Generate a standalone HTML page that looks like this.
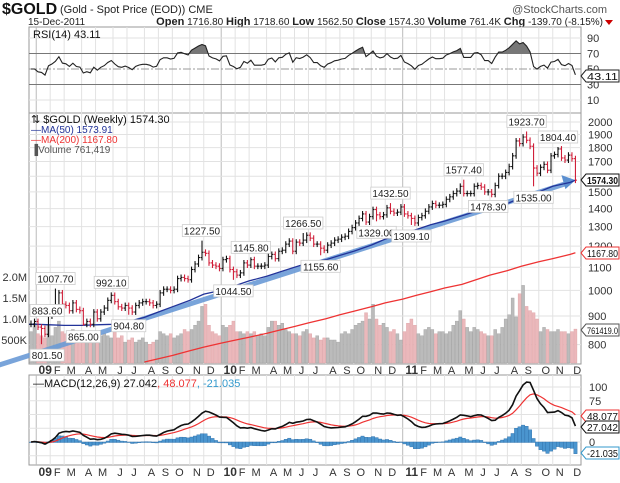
<!DOCTYPE html>
<html><head><meta charset="utf-8"><style>
body{margin:0;background:#fff;}
svg text{font-family:"Liberation Sans",sans-serif;}
</style></head><body>
<svg id="c" width="620" height="478" viewBox="0 0 620 478" xmlns="http://www.w3.org/2000/svg">
<rect width="620" height="478" fill="#fff"/>
<text x="2" y="14" font-size="16" font-weight="bold" fill="#111">$GOLD</text>
<text x="60" y="13" font-size="11" fill="#222">(Gold - Spot Price (EOD)) CME</text>
<text x="607" y="13" font-size="11" fill="#555" text-anchor="end">@StockCharts.com</text>
<text x="28" y="25" font-size="10" fill="#222">15-Dec-2011</text>
<text x="603" y="25" font-size="10" fill="#222" text-anchor="end"><tspan font-weight="bold" font-size="11">Open</tspan> 1716.80 <tspan font-weight="bold" font-size="11">High</tspan> 1718.60 <tspan font-weight="bold" font-size="11">Low</tspan> 1562.50 <tspan font-weight="bold" font-size="11">Close</tspan> 1574.30 <tspan font-weight="bold" font-size="11">Volume</tspan> 761.4K <tspan font-weight="bold" font-size="11">Chg</tspan> -139.70 (-8.15%)</text>
<path d="M605 20 L613 20 L609 25 Z" fill="#c00"/>
<g id="g"></g>
</svg>
<script>
const closes=[870,880,
860,855,835,900, 915,940,990,945, 940,920,950,925,920, 870,880,870,915, 890,915,930,960,980, 955,935,930,940, 930,915,940,950,955, 955,950,940,945, 990,1005,1005,1000, 1005,1050,1055,1050,1045, 1090,1115,1145,1170, 1165,1120,1110,1105,1095,
1135,1140,1090,1080, 1065,1075,1120,1110, 1135,1105,1105,1105,1110, 1150,1160,1140,1175, 1180,1210,1225,1175, 1220,1215,1230,1255, 1240,1210,1210,1190,1180, 1205,1215,1230,1235, 1245,1250,1275,1295, 1320,1345,1370,1325,1355, 1395,1365,1355,1365, 1405,1385,1375,1380,1410,
1370,1360,1345,1320, 1350,1360,1385,1410, 1430,1420,1420,1425, 1455,1470,1490,1505,1535, 1490,1490,1490,1535, 1540,1530,1500,1500, 1485,1540,1600,1600,1625, 1665,1740,1850,1830, 1880,1855,1810,1655,1620, 1660,1680,1640,1740, 1750,1790,1725,1710,1745, 1720,1574.3];
const volumes=[700,900,
650,600,550,850, 600,800,950,700, 650,600,750,550,700, 500,450,450,500, 500,600,650,600,550, 700,550,600,450, 500,550,450,500,550, 450,400,450,500, 700,650,600,650, 550,600,650,750,700, 750,850,950,1300, 1350,850,700,650,600,
850,800,850,950, 700,700,650,700, 650,700,600,650,600, 800,950,950,850, 900,750,700,650, 650,600,700,750, 650,550,600,500,550, 550,500,500,450, 650,700,650,750, 850,900,950,1150,1000, 1350,1000,850,900, 800,700,750,650,500,
700,900,1000,850, 650,600,750,800, 750,650,700,700, 650,700,850,950,1200, 1000,800,700,800, 750,700,650,600, 600,750,650,800,1000, 1100,1500,1050,1600, 1800,1300,1200,1150,1000, 700,800,750,700, 700,750,700,700,650, 700,760];
const monthLabels=['09','F','M','A','M','J','J','A','S','O','N','D','10','F','M','A','M','J','J','A','S','O','N','D','11','F','M','A','M','J','J','A','S','O','N','D'];
const weeksPerMonth=[4,4,5,4,5,4,5,4,4,5,4,5, 4,4,5,4,4,4,5,4,4,5,4,5, 4,4,4,5,4,4,5,4,5,4,5,2];
const ma50=[870,868,866,866,868,870,878,895,915,935,960,985,1000,1020,1040,1060,1080,1100,1120,1135,1155,1175,1205,1235,1265,1285,1310,1330,1360,1385,1405,1430,1465,1500,1535,1560,1573.9];
const ma200=[745,755,765,780,792,805,815,825,838,850,862,875,890,905,918,935,950,965,980,995,1010,1025,1045,1065,1085,1105,1125,1140,1160,1167.8];
const ma200StartMonth=7;
const priceTicks=[800,900,1000,1100,1200,1300,1400,1500,1600,1700,1800,1900,2000];
const priceTickLabels=['800','900','1000','1100','1200','1300','1400','1500','','1700','1800','1900','2000'];
const volTicks=[500,1000,1500,2000];
const volTickLabels=['500K','1.0M','1.5M','2.0M'];
const rsiTicks=[10,30,50,70,90];
const macdTicks=[-25,0,25,50,75,100];
const macdTickLabels=['','0','','','75','100'];
const annLabels=['883.60','801.50','1007.70','865.00','992.10','904.80','1227.50','1044.50','1145.80','1266.50','1155.60','1432.50','1329.00','1309.10','1577.40','1478.30','1923.70','1535.00','1804.40'];
const annIdx=[0,3,7,15,23,28,49,58,63,78,83,103,99,109,124,131,142,144,151];
const annPrice=[883.6,801.5,1007.7,865,992.1,904.8,1227.5,1044.5,1145.8,1266.5,1155.6,1432.5,1329,1309.1,1577.4,1478.3,1923.7,1535,1804.4];
const annAbove=[1,0,1,0,1,0,1,0,1,1,0,1,0,0,1,0,1,0,1];
const trendIdx=[-9,156];
const trendPrice=[736,1574.3];

const L=29,R=581,X0=31,DX=3.49;
const xI=i=>X0+i*DX;
const yP=p=>122+243*Math.log(2000/p);
const yV=v=>361-v*0.042;
const yR=r=>69-(r-50)*0.775;
const yM=m=>442-m*0.55;
const NS='http://www.w3.org/2000/svg';
const G=document.getElementById('g');
function el(tag,attrs,parent){const e=document.createElementNS(NS,tag);for(const k in attrs)e.setAttribute(k,attrs[k]);(parent||G).appendChild(e);return e;}
function txt(x,y,s,attrs,parent){const t=el('text',Object.assign({x:x,y:y,'font-size':11,fill:'#222'},attrs||{}),parent);t.textContent=s;return t;}

const monthStart=[];let acc=2;for(const w of weeksPerMonth){monthStart.push(acc);acc+=w;}
const mx=k=>xI(monthStart[k]-0.5);

const panels=[[27,113],[113,364],[375,465]];
panels.forEach((p,k)=>{
 const r=el('rect',{x:L,y:p[0],width:R-L,height:p[1]-p[0],fill:'#fff',stroke:'#999','stroke-width':1});
 
 
});
const gridG=el('g',{});


monthStart.forEach((s,k)=>{
 const x=mx(k);
 panels.forEach(p=>{el('line',{x1:x,x2:x,y1:p[0],y2:p[1],stroke:(monthLabels[k].length==2?'#bbb':'#e2e2e2'),'stroke-width':1},gridG);});
});
[370,472].forEach((yy,j)=>{
 monthLabels.forEach((m,k)=>{
  const t=txt(mx(k)+(m.length==2?9:7),yy+4,m,{'font-size':(m.length==2?12:11),'font-weight':(m.length==2?'bold':'normal'),'text-anchor':'middle',fill:'#333'});
  
  
 });
});

rsiTicks.forEach(r=>{
 const y=yR(r);
 const ln=el('line',{x1:L,x2:R,y1:y,y2:y,stroke:(r==70||r==30)?'#777':(r==50?'#999':'#e2e2e2'),'stroke-width':1,'stroke-dasharray':r==50?'8,2,2,2':'none'});
 
 
 const t=txt(587,y+4,String(r),{fill:'#333'});
 
 
});
const rsi=[];{let ag=0,al=0;for(let i=0;i<closes.length;i++){if(i==0){rsi.push(50);continue;}const d=closes[i]-closes[i-1];const g=Math.max(d,0),l=Math.max(-d,0);if(i==1){ag=g||10;al=l||10;}else{ag=(ag*13+g)/14;al=(al*13+l)/14;}rsi.push(100-100/(1+ag/al));}}
const rsiPts=rsi.map((r,i)=>xI(i).toFixed(1)+','+yR(r).toFixed(1)).join(' ');
const cp=el('clipPath',{id:'ob'});
el('rect',{x:L,y:27,width:R-L,height:yR(70)-27},cp);
const rf=el('polygon',{points:xI(0)+','+yR(70)+' '+rsiPts+' '+xI(closes.length-1)+','+yR(70),fill:'#777','clip-path':'url(#ob)'});


const rl=el('polyline',{points:rsiPts,fill:'none',stroke:'#222','stroke-width':1.1});


const rsiTitle=txt(33,38,'RSI(14) 43.11',{'font-size':11,fill:'#111','font-family':'Liberation Mono'});



priceTicks.forEach((p,k)=>{
 const y=yP(p);
 const ln=el('line',{x1:L,x2:R,y1:y,y2:y,stroke:'#e2e2e2','stroke-width':1});
 
 
 const t=txt(588,y+4,priceTickLabels[k],{fill:'#333'});
 
 
});
volTicks.forEach((v,k)=>{
 const t=txt(27,yV(v)+4,volTickLabels[k],{'text-anchor':'end',fill:'#333'});
 
 
});
closes.forEach((c,i)=>{
 const up=i==0||c>=closes[i-1];
 const b=el('rect',{x:xI(i)-1.5,y:yV(volumes[i]),width:3,height:361-yV(volumes[i])+2,fill:up?'#bbbbbb':'#ebb8bb',stroke:up?'#a0a0a0':'#dda0a4',"stroke-width":0.4});
 
 
});
const ma200Pts=ma200.map((v,k)=>{const m=ma200StartMonth+k;const x=m<monthStart.length?mx(m):xI(closes.length-1);return x.toFixed(1)+','+yP(v).toFixed(1);}).join(' ');
const m2=el('polyline',{points:ma200Pts,fill:'none',stroke:'#e33','stroke-width':1.3});


const tx1=xI(trendIdx[0]),ty1=yP(trendPrice[0]),tx2=xI(trendIdx[1]),ty2=yP(trendPrice[1]);
const tr=el('line',{x1:tx1,y1:ty1,x2:tx2-8,y2:ty2+3,stroke:'#6b9bd6','stroke-width':5,'stroke-linecap':'round',opacity:0.9});


const ah=el('polygon',{points:(tx2)+','+(ty2)+' '+(tx2-14)+','+(ty2-5)+' '+(tx2-10)+','+(ty2+9),fill:'#5b8fd0'});


const ma50Pts=ma50.map((v,k)=>{const x=k<monthStart.length?mx(k):xI(closes.length-1);return x.toFixed(1)+','+yP(v).toFixed(1);});
ma50Pts.unshift(L+','+yP(ma50[0]).toFixed(1));
const m1=el('polyline',{points:ma50Pts.join(' '),fill:'none',stroke:'#223399','stroke-width':1.3});


closes.forEach((c,i)=>{
 const o=i==0?c:closes[i-1];
 let hi=Math.max(o,c)*1.012,lo=Math.min(o,c)*0.988;
 const a=annIdx.indexOf(i);
 if(a>=0){if(annAbove[a])hi=annPrice[a];else lo=annPrice[a];}
 const col=(i==0||c>=o)?'#111':'#d0203a';
 const x=xI(i);
 const gb=el('g',{stroke:col,'stroke-width':1.1});
 
 
 el('line',{x1:x,x2:x,y1:yP(hi),y2:yP(lo)},gb);
 el('line',{x1:x-1.5,x2:x,y1:yP(o),y2:yP(o)},gb);
 el('line',{x1:x,x2:x+1.5,y1:yP(c),y2:yP(c)},gb);
});
annLabels.forEach((s,k)=>{
 const x=xI(annIdx[k]);const y=yP(annPrice[k])+(annAbove[k]?-10:11);
 const w=s.length*5.2+3;
 const ga=el('g',{});
 
 
 el('rect',{x:Math.max(x-w/2,L+1),y:y-6,width:w,height:12,fill:'#fff',stroke:'#ccc','stroke-width':0.8},ga);
 txt(Math.max(x-w/2,L+1)+w/2,y+4,s,{'font-size':10,'text-anchor':'middle',fill:'#222'},ga);
});
const leg=[['\u21c5 $GOLD (Weekly) 1574.30','#111',119,'Liberation Mono'],['\u2014MA(50) 1573.91','#223399',129,'Liberation Sans'],['\u2014MA(200) 1167.80','#e33',139,'Liberation Sans'],['\u2590Volume 761,419','#555',149,'Liberation Sans']];
leg.forEach((l,k)=>{
 const t=txt(31,l[2]+4,l[0],{'font-size':l[3]=='Liberation Mono'?11:10,fill:l[1],'font-family':l[3]});
 
 
});

function ema(arr,n){const k=2/(n+1);const out=[];let e=arr[0];arr.forEach((v,i)=>{e=i==0?v:v*k+e*(1-k);out.push(e);});return out;}
const e12=ema(closes,12),e26=ema(closes,26);
const macd=closes.map((c,i)=>e12[i]-e26[i]);
const sig=ema(macd,9);
macdTicks.forEach((m,k)=>{
 const y=yM(m);
 const ln=el('line',{x1:L,x2:R,y1:y,y2:y,stroke:'#e2e2e2','stroke-width':1});
 
 
 const t=txt(589,y+4,macdTickLabels[k],{fill:'#333'});
 
 
});
macd.forEach((m,i)=>{
 const h=m-sig[i];
 const b=el('rect',{x:xI(i)-1.7,y:Math.min(yM(h),yM(0)),width:3.4,height:Math.abs(yM(h)-yM(0))+0.5,fill:'#4a95cf',stroke:'#2d6ea8','stroke-width':0.4});
 
 
});
const sl=el('polyline',{points:sig.map((v,i)=>xI(i).toFixed(1)+','+yM(v).toFixed(1)).join(' '),fill:'none',stroke:'#e33','stroke-width':1.2});


const ml=el('polyline',{points:macd.map((v,i)=>xI(i).toFixed(1)+','+yM(v).toFixed(1)).join(' '),fill:'none',stroke:'#111','stroke-width':1.6});


const mt=txt(33,387,'',{'font-size':11,'font-family':'Liberation Mono'});


mt.innerHTML='<tspan fill="#111">\u2014MACD(12,26,9) 27.042</tspan><tspan fill="#e33">, 48.077</tspan><tspan fill="#3399cc">, -21.035</tspan>';

const tags=[[76,'43.11','#222','normal','rsi-value-tag',10],[180,'1574.30','#111','bold','close-value-tag',10],[253,'1167.80','#e33','normal','ma200-value-tag',10],[330,'761419.0','#555','normal','volume-value-tag',9],[416,'48.077','#e33','normal','signal-value-tag',10],[427,'27.042','#111','normal','macd-value-tag',10],[453,'-21.035','#3399cc','normal','histogram-value-tag',10]];
tags.forEach(t=>{
 const gt=el('g',{});
 
 
 el('polygon',{points:'581,'+t[0]+' 586,'+(t[0]-6)+' 619,'+(t[0]-6)+' 619,'+(t[0]+6)+' 586,'+(t[0]+6),fill:'#fff',stroke:t[2],'stroke-width':1},gt);
 txt(587,t[0]+4,t[1],{'font-size':t[5],'font-weight':t[3],fill:'#111',textLength:31,lengthAdjust:'spacingAndGlyphs'},gt);
});
</script>
</body></html>
